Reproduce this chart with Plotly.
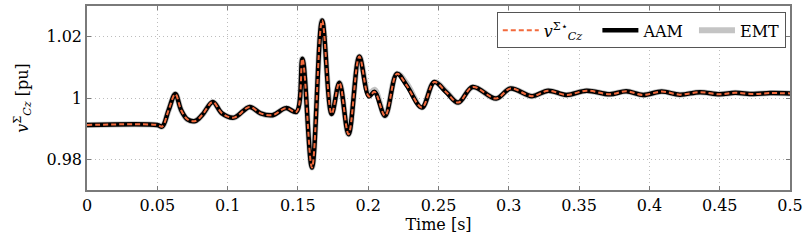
import plotly.graph_objects as go

# Time [s] keypoints
t = [0, 0.05, 0.0535, 0.058, 0.0628, 0.067, 0.0715, 0.077, 0.082, 0.0895, 0.096,
     0.1045, 0.1157, 0.1235, 0.132, 0.1415, 0.149, 0.1532, 0.160, 0.1672, 0.174,
     0.1795, 0.186, 0.1937, 0.2005, 0.2045, 0.212, 0.2205, 0.2275, 0.2382, 0.247,
     0.2555, 0.264, 0.2743, 0.291, 0.3012, 0.3165, 0.328, 0.341, 0.3553, 0.3719,
     0.3835, 0.3956, 0.4087, 0.4217, 0.436, 0.450, 0.461, 0.474, 0.4858, 0.5]

# AAM model (black)
v_aam = [0.9912, 0.9912, 0.9907, 0.9960, 1.0013, 0.9960, 0.9930, 0.9925, 0.9945, 0.9987, 0.9950,
         0.9936, 0.9971, 0.9950, 0.9944, 0.9967, 0.9955, 1.0128, 0.9773, 1.0253, 0.9948,
         1.0050, 0.9882, 1.0135, 1.0005, 1.0020, 0.9942, 1.0079, 1.0040, 0.9969, 1.0052,
         1.0019, 0.9985, 1.0036, 0.9998, 1.0031, 1.0006, 1.0024, 1.0010, 1.0024, 1.0012,
         1.0022, 1.0010, 1.0021, 1.0011, 1.0019, 1.0012, 1.0017, 1.0013, 1.0016, 1.0015]

# Reference v_Cz^{Σ*} (orange dashed)
v_ref = list(v_aam)

# EMT simulation (light grey)
v_emt = [0.9912, 0.9912, 0.9907, 0.9960, 1.0013, 0.9960, 0.9930, 0.9925, 0.9945, 0.9987, 0.9950,
         0.9936, 0.9971, 0.9950, 0.9944, 0.9967, 0.9955, 1.0128, 0.9773, 1.0253, 0.9948,
         1.0050, 0.9882, 1.0135, 1.0012, 1.0027, 0.9942, 1.0079, 1.0046, 0.9969, 1.0052,
         1.0021, 0.9985, 1.0036, 0.9998, 1.0031, 1.0006, 1.0024, 1.0010, 1.0024, 1.0012,
         1.0022, 1.0010, 1.0021, 1.0011, 1.0019, 1.0012, 1.0017, 1.0013, 1.0016, 1.0015]

x_ticks = [0, 0.05, 0.1, 0.15, 0.2, 0.25, 0.3, 0.35, 0.4, 0.45, 0.5]
x_ticklabels = ["0", "0.05", "0.1", "0.15", "0.2", "0.25", "0.3", "0.35", "0.4", "0.45", "0.5"]
y_ticks = [0.98, 1.0, 1.02]
y_ticklabels = ["0.98", "1", "1.02"]

FONT = "DejaVu Serif, serif"
FS = 16
NB = "\u00a0"

fig = go.Figure()
fig.add_trace(go.Scatter(x=t, y=v_emt, mode="lines", name="EMT", legendrank=3,
                         line=dict(color="#c4c4c4", width=6, shape="spline")))
fig.add_trace(go.Scatter(x=t, y=v_aam, mode="lines", name="AAM" + NB, legendrank=2,
                         line=dict(color="black", width=4.5, shape="spline")))
fig.add_trace(go.Scatter(x=t, y=v_ref, mode="lines", legendrank=1,
                         name="<i>v</i><sup>Σ⋆</sup><sub><i>Cz</i></sub>" + NB * 2,
                         line=dict(color="#f26a3c", width=2, dash="5px,3px", shape="spline")))

axis_common = dict(
    showline=True, linecolor="#7a7a7a", linewidth=1.5, mirror="ticks",
    ticks="inside", ticklen=4, tickcolor="#7a7a7a",
    showgrid=True, gridcolor="#bdbdbd", gridwidth=1, griddash="1px,3px",
    zeroline=False, automargin=False,
    tickfont=dict(family=FONT, size=FS, color="black"),
)

fig.update_xaxes(range=[0, 0.5], tickvals=x_ticks, ticktext=x_ticklabels,
                 title=dict(text="Time [s]", font=dict(family=FONT, size=FS, color="black"), standoff=2),
                 **axis_common)
fig.update_yaxes(range=[0.97, 1.03], tickvals=y_ticks, ticktext=y_ticklabels,
                 title=dict(text="<i>v</i><sup>Σ</sup><sub><i>Cz</i></sub> [pu]",
                            font=dict(family=FONT, size=FS, color="black"), standoff=14),
                 **axis_common)

fig.update_layout(
    width=806, height=244,
    margin=dict(l=87, r=16, t=6, b=54, autoexpand=False),
    plot_bgcolor="white", paper_bgcolor="white",
    font=dict(family=FONT, size=FS, color="black"),
    legend=dict(orientation="h", x=0.994, xanchor="right", y=0.965, yanchor="top",
                bgcolor="white", bordercolor="#555555", borderwidth=1,
                font=dict(family=FONT, size=FS, color="black"),
                itemwidth=36, tracegroupgap=0),
    showlegend=True,
)

fig.write_html("out.html", config={"displayModeBar": False},
               post_script="document.body.style.margin='0';document.body.style.padding='0';")
